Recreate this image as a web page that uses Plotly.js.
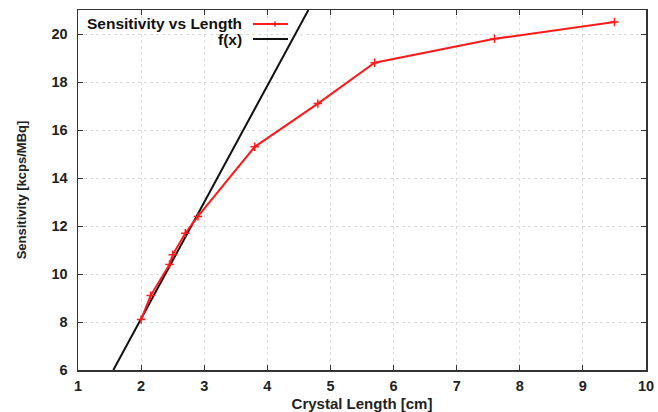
<!DOCTYPE html>
<html><head><meta charset="utf-8">
<script src="https://cdn.plot.ly/plotly-3.0.1.min.js"></script>
<style>html,body{margin:0;padding:0;background:#fff}#chart{width:658px;height:412px}</style>
</head><body><div id="chart"></div>
<script>
const crystalLength = [2.0, 2.15, 2.45, 2.5, 2.7, 2.9, 3.8, 4.8, 5.7, 7.6, 9.5];
const sensitivity   = [8.1, 9.1, 10.4, 10.8, 11.7, 12.4, 15.3, 17.1, 18.8, 19.8, 20.5];
const fitX = [1.56, 4.65];
const fitY = [6.0, 21.0];
const seriesName = 'Sensitivity vs Length';
const fitName = 'f(x)';
const xTicks = [1,2,3,4,5,6,7,8,9,10];
const yTicks = [6,8,10,12,14,16,18,20];

const font = 'Liberation Sans, Arial, sans-serif';
const red = '#ff1a1a';
const traces = [
  {x: fitX, y: fitY, mode: 'lines', name: fitName, line: {color: '#111', width: 2}, showlegend: false},
  {x: crystalLength, y: sensitivity, mode: 'lines+markers', name: seriesName,
   line: {color: red, width: 2},
   marker: {symbol: 'cross-thin-open', size: 6, line: {color: red, width: 1.5}}, showlegend: false}
];
const axisCommon = {
  showline: true, mirror: 'ticks', linecolor: '#333', linewidth: 1.5,
  ticks: 'inside', ticklen: 5, tickcolor: '#333', tickwidth: 1,
  showgrid: true, gridcolor: '#dedede', griddash: 'dot', gridwidth: 1,
  zeroline: false,
  tickfont: {family: font, size: 14.5, color: '#222', weight: 'bold'}
};
const layout = {
  width: 658, height: 412,
  margin: {l: 78, r: 12, t: 10, b: 42},
  paper_bgcolor: '#fff', plot_bgcolor: '#fff',
  showlegend: false,
  xaxis: Object.assign({}, axisCommon, {range: [1, 10], tickvals: xTicks, ticklabelstandoff: 2,
    title: {text: 'Crystal Length [cm]', font: {family: font, size: 15, color: '#222', weight: 'bold'}, standoff: 7}}),
  yaxis: Object.assign({}, axisCommon, {range: [6, 21], tickvals: yTicks, ticklabelstandoff: 6,
    title: {text: 'Sensitivity [kcps/MBq]', font: {family: font, size: 13, color: '#222', weight: 'bold'}, standoff: 22}}),
  annotations: [
    {xref: 'paper', yref: 'paper', x: (244-78)/568, y: (370-24)/360, xanchor: 'right', yanchor: 'middle',
     text: seriesName, showarrow: false, font: {family: font, size: 15.5, color: '#111', weight: 'bold'}},
    {xref: 'paper', yref: 'paper', x: (244-78)/568, y: (370-39)/360, xanchor: 'right', yanchor: 'middle',
     text: fitName, showarrow: false, font: {family: font, size: 15.5, color: '#111', weight: 'bold'}}
  ],
  shapes: [
    {type: 'line', xref: 'paper', yref: 'paper', x0: (253-78)/568, x1: (288-78)/568, y0: (370-24)/360, y1: (370-24)/360,
     line: {color: red, width: 2}},
    {type: 'line', xref: 'paper', yref: 'paper', x0: (275-78)/568, x1: (275-78)/568, y0: (370-21.5)/360, y1: (370-26.5)/360,
     line: {color: red, width: 1.5}},
    {type: 'line', xref: 'paper', yref: 'paper', x0: (253-78)/568, x1: (288-78)/568, y0: (370-39)/360, y1: (370-39)/360,
     line: {color: '#111', width: 2}}
  ]
};
Plotly.newPlot('chart', traces, layout, {staticPlot: true, displayModeBar: false});
</script></body></html>
